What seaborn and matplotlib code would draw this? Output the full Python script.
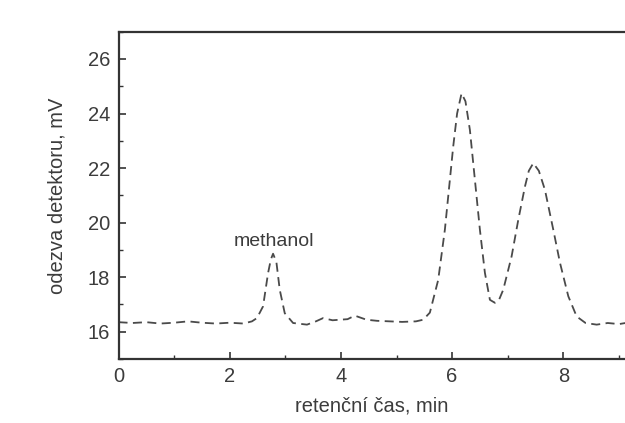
import matplotlib
matplotlib.use("Agg")
import matplotlib.pyplot as plt
import seaborn as sns
import pandas as pd
from matplotlib.ticker import MultipleLocator

# retention time (min) and detector response (mV)
time_min = [0.0, 0.25, 0.5, 0.75, 1.0, 1.25, 1.5, 1.75, 2.0, 2.25, 2.4,
            2.49, 2.60, 2.69, 2.74, 2.78, 2.84, 2.90, 2.99, 3.14,
            3.39, 3.55, 3.68, 3.85, 3.98, 4.12, 4.25, 4.46, 4.65, 4.88, 5.1, 5.35, 5.48,
            5.60, 5.75, 5.87, 5.96, 6.02, 6.09, 6.17, 6.24, 6.32, 6.41, 6.50, 6.59, 6.68, 6.77,
            6.84, 6.92, 7.07, 7.19, 7.31, 7.38, 7.46, 7.56, 7.67, 7.82, 7.94, 8.09, 8.24,
            8.40, 8.60, 8.80, 9.0, 9.15]
response_mV = [16.35, 16.32, 16.35, 16.30, 16.33, 16.38, 16.33, 16.30, 16.33, 16.30, 16.38,
               16.50, 16.93, 18.15, 18.65, 18.86, 18.55, 17.54, 16.68, 16.32,
               16.26, 16.38, 16.50, 16.42, 16.44, 16.46, 16.59, 16.44, 16.40, 16.38, 16.36, 16.38, 16.44,
               16.70, 17.90, 19.74, 21.57, 22.79, 24.00, 24.74, 24.45, 23.40, 21.57, 19.74, 18.16, 17.17, 17.06,
               17.15, 17.54, 18.76, 20.10, 21.32, 21.90, 22.18, 21.90, 21.20, 19.74, 18.53, 17.30, 16.56,
               16.32, 16.26, 16.32, 16.28, 16.33]

df = pd.DataFrame({"t": time_min, "r": response_mV})

sns.set_style("ticks")
plt.rcParams['font.family'] = ['Liberation Sans', 'DejaVu Sans']
txt = "#3c3c3c"

fig = plt.figure(figsize=(6.25, 4.23), dpi=100)
ax = fig.add_axes([118.5/625, 1-359/423, 1-118.5/625, (359-31.7)/423])

sns.lineplot(data=df, x="t", y="r", ax=ax, color="#4a4a4a", linewidth=1.3,
             linestyle=(0, (5, 3)))

ax.set_xlim(0, (625-118.5)/55.6)
ax.set_ylim(15, 27)
ax.xaxis.set_major_locator(MultipleLocator(2))
ax.xaxis.set_minor_locator(MultipleLocator(1))
ax.yaxis.set_major_locator(MultipleLocator(2))
ax.yaxis.set_minor_locator(MultipleLocator(1))
ax.tick_params(which="major", direction="in", length=5, width=1.2, colors="#333333",
               labelsize=14.5, labelcolor=txt, pad=6)
ax.tick_params(which="minor", direction="in", length=3, width=1.0, colors="#333333")
ax.tick_params(axis="x", top=False)
ax.tick_params(axis="y", right=False)

for s in ["left", "bottom", "top"]:
    ax.spines[s].set_linewidth(1.6)
    ax.spines[s].set_color("#333333")
ax.spines["right"].set_visible(False)

ax.set_xlabel("retenční čas, min", fontsize=14.5, color=txt, labelpad=7)
ax.set_ylabel("odezva detektoru, mV", fontsize=14.5, color=txt, labelpad=15)

ax.text(2.8, 19.15, "methanol", ha="center", va="baseline", fontsize=14, color=txt)

fig.savefig("out.png", dpi=100, facecolor="white")
